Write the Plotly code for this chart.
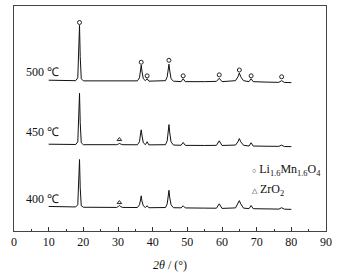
import plotly.graph_objects as go

# 2theta sampling points
two_theta = [10, 14, 17.8, 18.4, 18.7, 18.9, 19.1, 19.4, 20.0, 25, 29.6, 30.2, 30.5, 30.8, 31.4,
             35.6, 36.2, 36.5, 36.7, 36.9, 37.3, 37.9, 38.4, 38.9, 43.7, 44.2, 44.5, 44.7, 44.9,
             45.3, 46, 48.2, 48.8, 49.4, 55, 58.4, 59.2, 60.0, 63.9, 64.6, 65.0, 65.4, 66.2,
             67.8, 68.4, 69.0, 73, 76.4, 77.2, 78.0, 80]

# stacked intensities (a.u.), offsets included
i_500 = [155.5, 155.3, 155, 158, 185, 212, 180, 157, 154.8, 154.8, 154.6, 154.6, 154.6, 154.5, 154.5,
         154.8, 158, 166, 171, 165, 157, 155, 157, 154.5, 155, 159, 167, 172, 166,
         157, 154.5, 154, 157, 154, 154, 154.3, 157.5, 154, 155, 159, 163, 159, 155,
         154, 157, 154, 153.5, 153.3, 155, 153.2, 153]
i_450 = [89.5, 89.3, 89.2, 92, 118, 142, 112, 91, 89, 89, 89, 89.8, 90.3, 89.6, 89,
         88.9, 92, 100, 104.3, 99, 91, 89, 92, 88.8, 89, 93, 103, 109.7, 102,
         92, 88.6, 88.4, 91.3, 88.3, 88.2, 88.3, 93, 88.2, 88.6, 92, 95.3, 92, 88.4,
         87.6, 91, 87.6, 87.4, 87.3, 88.5, 87.1, 87]
i_400 = [25.3, 25, 24.8, 27, 50, 73.7, 45, 26, 24.5, 24.4, 24.3, 25.5, 26.3, 25, 24.3,
         24.2, 27, 32, 36.3, 31, 26, 24.2, 26, 24, 24.2, 28, 36, 42, 35,
         27, 24, 23.9, 26, 23.8, 23.6, 23.5, 28, 23.3, 23.8, 28, 31.3, 28, 23.6,
         23.1, 26.3, 23, 22.8, 22.6, 24, 22.5, 22.3]

# phase markers
lmo_x = [18.9, 36.7, 38.4, 44.7, 48.8, 59.2, 65.0, 68.4, 77.2]
lmo_y = [215, 174, 160, 176, 160, 161, 166, 160, 159]
zro2_x = [30.4, 30.4]
zro2_y = [94.3, 29.3]

labels = ['500 ℃', '450 ℃', '400 ℃']
label_y = [164, 102, 33]

serif = 'Liberation Serif, Times New Roman, serif'

fig = go.Figure()
for yy in [i_500, i_450, i_400]:
    fig.add_trace(go.Scatter(x=two_theta, y=yy, mode='lines',
                             line=dict(color='#111111', width=1), showlegend=False))

fig.add_trace(go.Scatter(x=lmo_x, y=lmo_y, mode='markers', showlegend=False,
                         marker=dict(symbol='circle-open', size=4, color='#222222',
                                     line=dict(width=1))))
fig.add_trace(go.Scatter(x=zro2_x, y=zro2_y, mode='markers', showlegend=False,
                         marker=dict(symbol='triangle-up-open', size=4, color='#222222',
                                     line=dict(width=1))))

for t, ly in zip(labels, label_y):
    fig.add_annotation(x=13.6, y=ly, text=t, showarrow=False, xanchor='right',
                       font=dict(family=serif, size=12, color='#111111'))

fig.add_annotation(x=0.755, y=0.272, xref='paper', yref='paper', xanchor='left',
                   yanchor='middle', showarrow=False,
                   text="<span style='font-size:7px'>○</span> Li<sub>1.6</sub>Mn<sub>1.6</sub>O<sub>4</sub>",
                   font=dict(family=serif, size=12, color='#111111'))
fig.add_annotation(x=0.755, y=0.181, xref='paper', yref='paper', xanchor='left',
                   yanchor='middle', showarrow=False,
                   text="<span style='font-size:7px'>△</span> ZrO<sub>2</sub>",
                   font=dict(family=serif, size=12, color='#111111'))

fig.update_xaxes(range=[0, 90], tickvals=[0, 10, 20, 30, 40, 50, 60, 70, 80, 90],
                 ticks='inside', ticklen=4, tickcolor='#333333',
                 minor=dict(dtick=5, ticks='inside', ticklen=2, tickcolor='#333333'),
                 showline=True, mirror=True, linecolor='#444444', linewidth=1,
                 showgrid=False, zeroline=False,
                 tickfont=dict(family=serif, size=12, color='#111111'),
                 title=dict(text='<i>2θ</i> / (°)', standoff=12,
                            font=dict(family=serif, size=12, color='#111111')))
fig.update_yaxes(range=[0, 232], showticklabels=False, ticks='',
                 showline=True, mirror=True, linecolor='#444444', linewidth=1,
                 showgrid=False, zeroline=False)

fig.update_layout(width=339, height=275, margin=dict(l=14, r=13, t=5, b=38),
                  plot_bgcolor='white', paper_bgcolor='white')

# drop the default body margin so the figure sits at the window's corner
fig.write_html('out.html', config={'displayModeBar': False},
               post_script="document.body.style.margin='0';")
